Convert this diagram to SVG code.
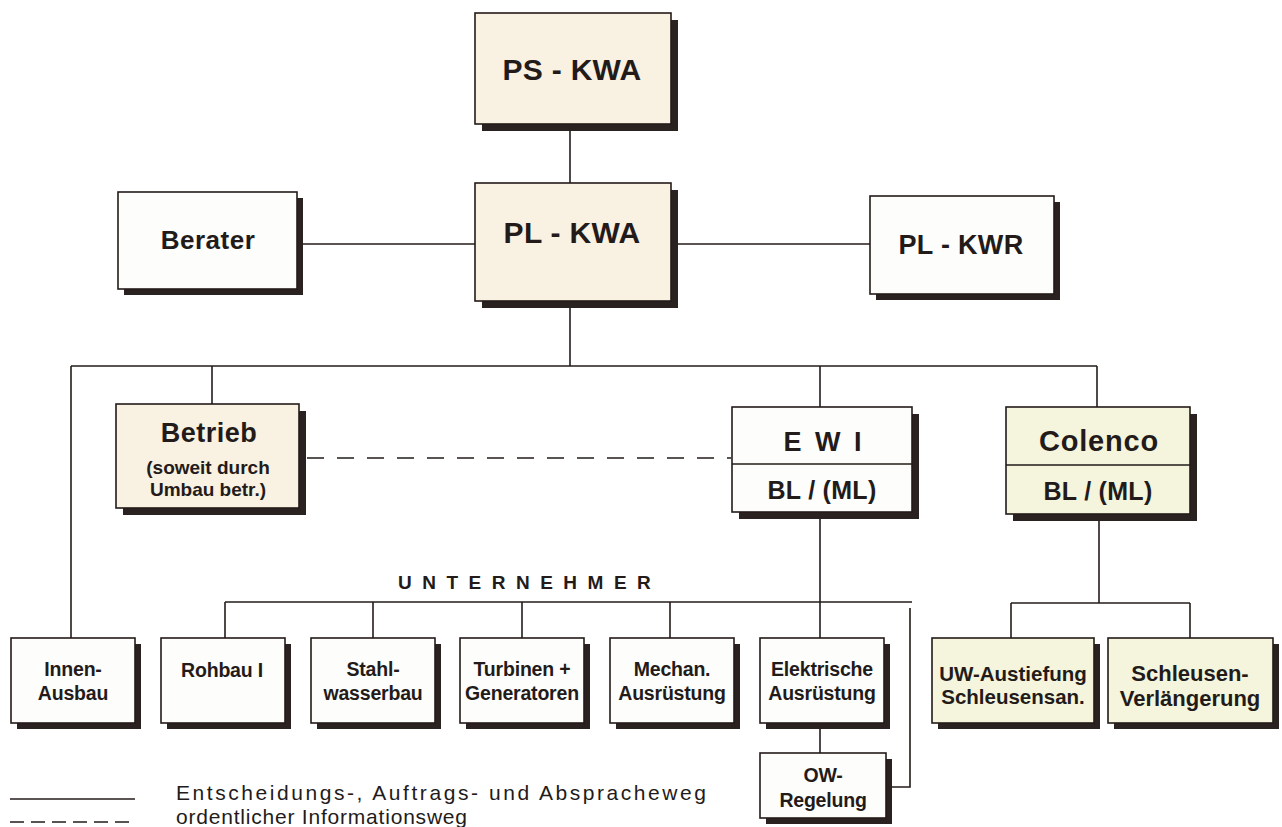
<svg xmlns="http://www.w3.org/2000/svg" width="1282" height="827" viewBox="0 0 1282 827">
<style>
.bg{fill:#ffffff}
.box{stroke:#231b19;stroke-width:1.6}
.cream{fill:#f9f1e2}
.white{fill:#fdfdfb}
.green{fill:#f4f5dc}
.sh{fill:#2a2220}
.ln{stroke:#231b19;stroke-width:1.6;fill:none}
.dash{stroke:#231b19;stroke-width:1.6;fill:none;stroke-dasharray:17 13}
text{font-family:"Liberation Sans",Arial,sans-serif;fill:#231b19;text-anchor:middle;font-weight:bold}
.t28{font-size:30px;letter-spacing:0.3px}
.t18{font-size:19px;letter-spacing:0px}
.tb{font-size:19.5px;letter-spacing:-0.2px}
.leg{font-size:21px;font-weight:normal;text-anchor:start}
</style>
<rect class="bg" x="0" y="0" width="1282" height="827"/>

<g id="connectors">
  <line class="ln" x1="570" y1="124" x2="570" y2="183"/>
  <line class="ln" x1="297" y1="244" x2="475" y2="244"/>
  <line class="ln" x1="671" y1="244" x2="870" y2="244"/>
  <line class="ln" x1="570" y1="301" x2="570" y2="366"/>
  <line class="ln" x1="71" y1="366" x2="1097" y2="366"/>
  <line class="ln" x1="71" y1="366" x2="71" y2="638"/>
  <line class="ln" x1="212" y1="366" x2="212" y2="404"/>
  <line class="ln" x1="820" y1="366" x2="820" y2="407"/>
  <line class="ln" x1="1097" y1="366" x2="1097" y2="407"/>
  <line class="dash" x1="307" y1="458" x2="731" y2="458"/>
  <line class="ln" x1="820" y1="512" x2="820" y2="638"/>
  <line class="ln" x1="225" y1="602" x2="912" y2="602"/>
  <line class="ln" x1="225" y1="602" x2="225" y2="638"/>
  <line class="ln" x1="373" y1="602" x2="373" y2="638"/>
  <line class="ln" x1="522" y1="602" x2="522" y2="638"/>
  <line class="ln" x1="670" y1="602" x2="670" y2="638"/>
  <polyline class="ln" points="910,608 910,787 892,787"/>
  <line class="ln" x1="820" y1="723" x2="820" y2="753"/>
  <line class="ln" x1="1099" y1="514" x2="1099" y2="603"/>
  <line class="ln" x1="1011" y1="603" x2="1190" y2="603"/>
  <line class="ln" x1="1011" y1="603" x2="1011" y2="638"/>
  <line class="ln" x1="1190" y1="603" x2="1190" y2="638"/>
</g>

<g id="ps-kwa">
  <rect class="sh" x="482" y="20" width="196" height="111"/>
  <rect class="box cream" x="475" y="13" width="196" height="111"/>
  <text class="t28" x="572" y="80">PS - KWA</text>
</g>
<g id="pl-kwa">
  <rect class="sh" x="482" y="190" width="196" height="118"/>
  <rect class="box cream" x="475" y="183" width="196" height="118"/>
  <text class="t28" x="572" y="243">PL - KWA</text>
</g>
<g id="berater">
  <rect class="sh" x="124" y="198" width="179" height="97"/>
  <rect class="box white" x="118" y="192" width="179" height="97"/>
  <text x="208" y="249" style="font-size:26px;letter-spacing:0.5px">Berater</text>
</g>
<g id="pl-kwr">
  <rect class="sh" x="876" y="202" width="184" height="98"/>
  <rect class="box white" x="870" y="196" width="184" height="98"/>
  <text x="961" y="254" style="font-size:27px;letter-spacing:0.3px">PL - KWR</text>
</g>
<g id="betrieb">
  <rect class="sh" x="123" y="411" width="183" height="104"/>
  <rect class="box cream" x="116" y="404" width="183" height="104"/>
  <text x="209" y="442" style="font-size:27px;letter-spacing:0.5px">Betrieb</text>
  <text class="t18" x="208" y="474">(soweit durch</text>
  <text class="t18" x="208" y="496">Umbau betr.)</text>
</g>
<g id="ewi">
  <rect class="sh" x="739" y="414" width="180" height="105"/>
  <rect class="box white" x="732" y="407" width="180" height="105"/>
  <line class="ln" x1="732" y1="464" x2="912" y2="464"/>
  <text x="824" y="451" style="font-size:27px;letter-spacing:3px">E W I</text>
  <text x="822" y="499" style="font-size:25px;letter-spacing:0.3px">BL / (ML)</text>
</g>
<g id="colenco">
  <rect class="sh" x="1013" y="414" width="184" height="107"/>
  <rect class="box green" x="1006" y="407" width="184" height="107"/>
  <line class="ln" x1="1006" y1="465" x2="1190" y2="465"/>
  <text x="1099" y="451" style="font-size:29px;letter-spacing:0.8px">Colenco</text>
  <text x="1098" y="500" style="font-size:25px;letter-spacing:0.3px">BL / (ML)</text>
</g>

<text x="398" y="589" style="font-size:19px;letter-spacing:10.5px;text-anchor:start">UNTERNEHMER</text>

<g id="innen-ausbau">
  <rect class="sh" x="17" y="644" width="124" height="85"/>
  <rect class="box white" x="11" y="638" width="124" height="85"/>
  <text class="tb" x="73" y="676">Innen-</text>
  <text class="tb" x="73" y="700">Ausbau</text>
</g>
<g id="rohbau">
  <rect class="sh" x="167" y="644" width="124" height="85"/>
  <rect class="box white" x="161" y="638" width="124" height="85"/>
  <text class="tb" x="222" y="677">Rohbau I</text>
</g>
<g id="stahlwasserbau">
  <rect class="sh" x="317" y="644" width="124" height="85"/>
  <rect class="box white" x="311" y="638" width="124" height="85"/>
  <text class="tb" x="373" y="676">Stahl-</text>
  <text class="tb" x="373" y="700">wasserbau</text>
</g>
<g id="turbinen">
  <rect class="sh" x="466" y="644" width="124" height="85"/>
  <rect class="box white" x="460" y="638" width="124" height="85"/>
  <text class="tb" x="522" y="676">Turbinen +</text>
  <text class="tb" x="522" y="700">Generatoren</text>
</g>
<g id="mechan">
  <rect class="sh" x="616" y="644" width="124" height="85"/>
  <rect class="box white" x="610" y="638" width="124" height="85"/>
  <text class="tb" x="672" y="676">Mechan.</text>
  <text class="tb" x="672" y="700">Ausrüstung</text>
</g>
<g id="elektrische">
  <rect class="sh" x="766" y="644" width="124" height="85"/>
  <rect class="box white" x="760" y="638" width="124" height="85"/>
  <text class="tb" x="822" y="676">Elektrische</text>
  <text class="tb" x="822" y="700">Ausrüstung</text>
</g>
<g id="ow-regelung">
  <rect class="sh" x="766" y="759" width="126" height="65"/>
  <rect class="box white" x="760" y="753" width="126" height="65"/>
  <text class="tb" x="823" y="782">OW-</text>
  <text class="tb" x="823" y="807">Regelung</text>
</g>
<g id="uw-austiefung">
  <rect class="sh" x="938" y="644" width="162" height="85"/>
  <rect class="box green" x="932" y="638" width="162" height="85"/>
  <text x="1013" y="681" style="font-size:20.5px">UW-Austiefung</text>
  <text x="1013" y="704" style="font-size:20.5px">Schleusensan.</text>
</g>
<g id="schleusen">
  <rect class="sh" x="1114" y="644" width="165" height="85"/>
  <rect class="box green" x="1108" y="638" width="165" height="85"/>
  <text x="1190" y="681" style="font-size:22px">Schleusen-</text>
  <text x="1190" y="706" style="font-size:22px">Verlängerung</text>
</g>

<g id="legend">
  <line class="ln" x1="10" y1="799" x2="135" y2="799"/>
  <line class="ln" x1="10" y1="822" x2="135" y2="822" style="stroke-dasharray:14 7"/>
  <text class="leg" x="176" y="800" textLength="530" lengthAdjust="spacing">Entscheidungs-, Auftrags- und  Abspracheweg</text>
  <text class="leg" x="176" y="824" textLength="291" lengthAdjust="spacing">ordentlicher Informationsweg</text>
</g>
</svg>
